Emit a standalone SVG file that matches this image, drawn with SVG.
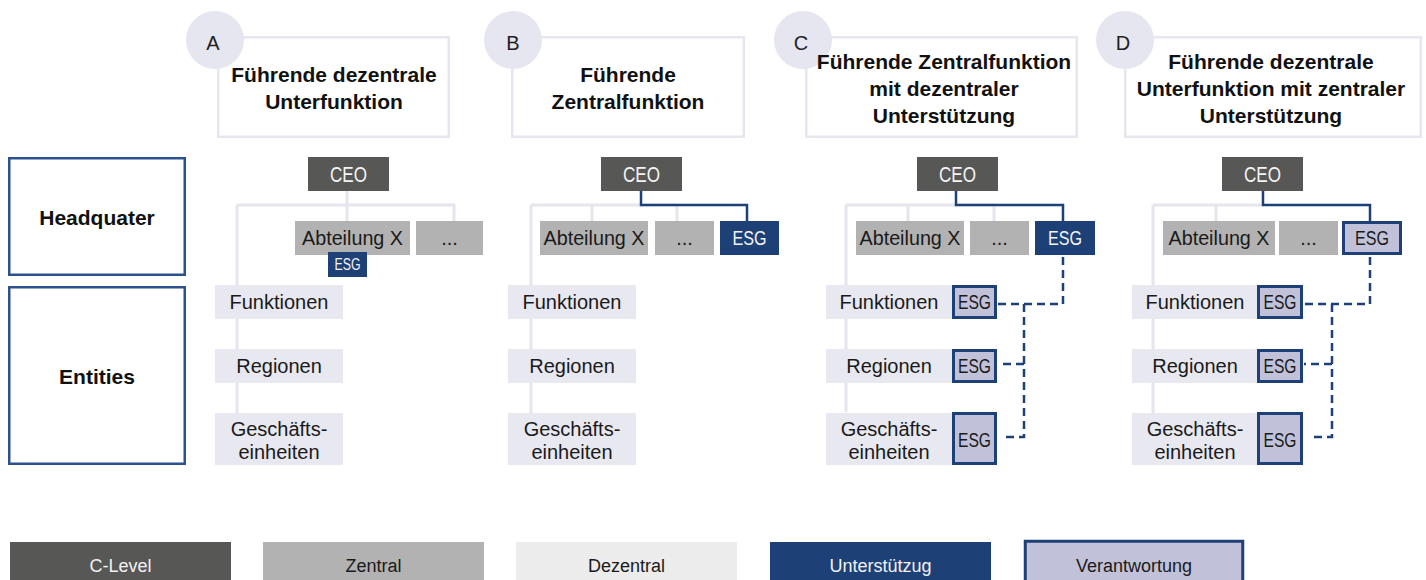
<svg xmlns="http://www.w3.org/2000/svg" width="1426" height="580" viewBox="0 0 1426 580">
<style>
  text { font-family: "Liberation Sans", Arial, sans-serif; text-anchor: middle; }
  .title { font-size: 21px; font-weight: bold; fill: #111; }
  .row { font-size: 21px; font-weight: bold; fill: #111; }
  .lbl { font-size: 20px; fill: #1a1a1a; }
  .wl { font-size: 20px; fill: #f4f4f4; }
  .ceo { font-size: 22px; fill: #f4f4f4; }
  .leg { font-size: 18px; }
  .hdr { fill: #fff; stroke: #e6e6f0; stroke-width: 2.5; }
  .circ { fill: #e6e6f0; }
  .letter { font-size: 20px; fill: #222; }
  .rowbox { fill: #fff; stroke: #2b5190; stroke-width: 2.5; }
  .clevel { fill: #575756; }
  .zentral { fill: #b2b2b2; }
  .dez { fill: #e8e8f0; }
  .blue { fill: #1d4077; }
  .resp { fill: #c1c2d9; stroke: #1d4077; stroke-width: 3; }
  .lline { fill: none; stroke: #e5e5ee; stroke-width: 3; }
  .bline { fill: none; stroke: #1d4077; stroke-width: 2.5; }
  .dline { fill: none; stroke: #1d4077; stroke-width: 2.5; stroke-dasharray: 8 5; }
</style>

<!-- Row labels -->
<g id="row-headquater">
  <rect class="rowbox" x="9.25" y="158.25" width="175.5" height="116.5"/>
  <text class="row" x="97" y="225">Headquater</text>
</g>
<g id="row-entities">
  <rect class="rowbox" x="9.25" y="287.25" width="175.5" height="176.5"/>
  <text class="row" x="97" y="384">Entities</text>
</g>

<!-- Headers -->
<g id="header-a">
  <rect class="hdr" x="218.25" y="37.25" width="230.5" height="99.5"/>
  <circle class="circ" cx="215" cy="40" r="29"/>
  <text class="letter" x="213" y="50">A</text>
  <text class="title" x="334" y="82">Führende dezentrale</text>
  <text class="title" x="334" y="109">Unterfunktion</text>
</g>
<g id="header-b">
  <rect class="hdr" x="512.25" y="37.25" width="231.5" height="99.5"/>
  <circle class="circ" cx="513" cy="40" r="29"/>
  <text class="letter" x="513" y="50">B</text>
  <text class="title" x="628" y="82">Führende</text>
  <text class="title" x="628" y="109">Zentralfunktion</text>
</g>
<g id="header-c">
  <rect class="hdr" x="806.25" y="37.25" width="270.5" height="99.5"/>
  <circle class="circ" cx="803" cy="40" r="29"/>
  <text class="letter" x="801" y="50">C</text>
  <text class="title" x="944" y="69">Führende Zentralfunktion</text>
  <text class="title" x="944" y="96">mit dezentraler</text>
  <text class="title" x="944" y="123">Unterstützung</text>
</g>
<g id="header-d">
  <rect class="hdr" x="1125.25" y="37.25" width="295.5" height="99.5"/>
  <circle class="circ" cx="1125" cy="40" r="29"/>
  <text class="letter" x="1123" y="50">D</text>
  <text class="title" x="1271" y="69">Führende dezentrale</text>
  <text class="title" x="1271" y="96">Unterfunktion mit zentraler</text>
  <text class="title" x="1271" y="123">Unterstützung</text>
</g>

<!-- Connectors -->
<g id="connectors">
  <!-- A -->
  <path class="lline" d="M347 191 V221 M237 205 H454 V221 M237 205 V413"/>
  <!-- B -->
  <path class="lline" d="M531 205 H677 V221 M592 205 V221 M531 205 V413"/>
  <path class="bline" d="M641 191 V205 H747 V221"/>
  <!-- C -->
  <path class="lline" d="M846 205 H994 V221 M908 205 V221 M846 205 V412"/>
  <path class="bline" d="M956 191 V205 H1063 V221"/>
  <path class="dline" d="M1063 257 V304 H998"/>
  <path class="dline" d="M1024 304 V437 H1003 M1024 364 H998"/>
  <!-- D -->
  <path class="lline" d="M1153 205 H1263 M1216 205 V221 M1153 205 V413"/>
  <path class="bline" d="M1263 191 V205 H1370 V221"/>
  <path class="dline" d="M1370 257 V304 H1304"/>
  <path class="dline" d="M1332 304 V437 H1310 M1332 364 H1304"/>
</g>

<!-- Section A nodes -->
<g id="a-ceo"><rect class="clevel" x="308" y="157" width="81" height="34"/><text class="ceo" x="348.5" y="182" textLength="37" lengthAdjust="spacingAndGlyphs">CEO</text></g>
<g id="a-abteilung"><rect class="zentral" x="295" y="221" width="115" height="34"/><text class="lbl" x="352.5" y="245" textLength="101" lengthAdjust="spacingAndGlyphs">Abteilung X</text></g>
<g id="a-more"><rect class="zentral" x="416" y="221" width="67" height="34"/><text class="lbl" x="449.5" y="245">...</text></g>
<g id="a-esg"><rect class="blue" x="328" y="252" width="39" height="25"/><text class="wl" x="347.5" y="270" style="font-size:16px" textLength="26" lengthAdjust="spacingAndGlyphs">ESG</text></g>
<g id="a-funktionen"><rect class="dez" x="215" y="285" width="128" height="34"/><text class="lbl" x="279" y="309">Funktionen</text></g>
<g id="a-regionen"><rect class="dez" x="215" y="349" width="128" height="34"/><text class="lbl" x="279" y="373">Regionen</text></g>
<g id="a-geschaeft"><rect class="dez" x="215" y="413" width="128" height="52"/><text class="lbl" x="279" y="436">Geschäfts-</text><text class="lbl" x="279" y="459">einheiten</text></g>

<!-- Section B nodes -->
<g id="b-ceo"><rect class="clevel" x="601" y="157" width="81" height="34"/><text class="ceo" x="641.5" y="182" textLength="37" lengthAdjust="spacingAndGlyphs">CEO</text></g>
<g id="b-abteilung"><rect class="zentral" x="540" y="221" width="108" height="34"/><text class="lbl" x="594" y="245" textLength="101" lengthAdjust="spacingAndGlyphs">Abteilung X</text></g>
<g id="b-more"><rect class="zentral" x="655" y="221" width="59" height="34"/><text class="lbl" x="684.5" y="245">...</text></g>
<g id="b-esg"><rect class="blue" x="720" y="221" width="59" height="34"/><text class="wl" x="749.5" y="245" textLength="34" lengthAdjust="spacingAndGlyphs">ESG</text></g>
<g id="b-funktionen"><rect class="dez" x="508" y="285" width="128" height="34"/><text class="lbl" x="572" y="309">Funktionen</text></g>
<g id="b-regionen"><rect class="dez" x="508" y="349" width="128" height="34"/><text class="lbl" x="572" y="373">Regionen</text></g>
<g id="b-geschaeft"><rect class="dez" x="508" y="413" width="128" height="52"/><text class="lbl" x="572" y="436">Geschäfts-</text><text class="lbl" x="572" y="459">einheiten</text></g>

<!-- Section C nodes -->
<g id="c-ceo"><rect class="clevel" x="917" y="157" width="81" height="34"/><text class="ceo" x="957.5" y="182" textLength="37" lengthAdjust="spacingAndGlyphs">CEO</text></g>
<g id="c-abteilung"><rect class="zentral" x="856" y="221" width="108" height="34"/><text class="lbl" x="910" y="245" textLength="101" lengthAdjust="spacingAndGlyphs">Abteilung X</text></g>
<g id="c-more"><rect class="zentral" x="970" y="221" width="59" height="34"/><text class="lbl" x="999.5" y="245">...</text></g>
<g id="c-esg"><rect class="blue" x="1035" y="221" width="60" height="34"/><text class="wl" x="1065" y="245" textLength="34" lengthAdjust="spacingAndGlyphs">ESG</text></g>
<g id="c-funktionen"><rect class="dez" x="826" y="285" width="128" height="34"/><text class="lbl" x="889" y="309">Funktionen</text></g>
<g id="c-regionen"><rect class="dez" x="826" y="349" width="128" height="34"/><text class="lbl" x="889" y="373">Regionen</text></g>
<g id="c-geschaeft"><rect class="dez" x="826" y="413" width="128" height="52"/><text class="lbl" x="889" y="436">Geschäfts-</text><text class="lbl" x="889" y="459">einheiten</text></g>
<g id="c-esg-f"><rect class="resp" x="953.5" y="286.5" width="42" height="31"/><text class="lbl" x="974.5" y="309" textLength="33" lengthAdjust="spacingAndGlyphs">ESG</text></g>
<g id="c-esg-r"><rect class="resp" x="953.5" y="350.5" width="42" height="31"/><text class="lbl" x="974.5" y="373" textLength="33" lengthAdjust="spacingAndGlyphs">ESG</text></g>
<g id="c-esg-g"><rect class="resp" x="953.5" y="413.5" width="42" height="50"/><text class="lbl" x="974.5" y="447" textLength="33" lengthAdjust="spacingAndGlyphs">ESG</text></g>

<!-- Section D nodes -->
<g id="d-ceo"><rect class="clevel" x="1222" y="157" width="81" height="34"/><text class="ceo" x="1262.5" y="182" textLength="37" lengthAdjust="spacingAndGlyphs">CEO</text></g>
<g id="d-abteilung"><rect class="zentral" x="1163" y="221" width="112" height="34"/><text class="lbl" x="1219" y="245" textLength="101" lengthAdjust="spacingAndGlyphs">Abteilung X</text></g>
<g id="d-more"><rect class="zentral" x="1279" y="221" width="59" height="34"/><text class="lbl" x="1308.5" y="245">...</text></g>
<g id="d-esg"><rect class="resp" x="1343.5" y="222.5" width="57" height="31"/><text class="lbl" x="1372" y="245" textLength="34" lengthAdjust="spacingAndGlyphs">ESG</text></g>
<g id="d-funktionen"><rect class="dez" x="1132" y="285" width="127" height="34"/><text class="lbl" x="1195" y="309">Funktionen</text></g>
<g id="d-regionen"><rect class="dez" x="1132" y="349" width="127" height="34"/><text class="lbl" x="1195" y="373">Regionen</text></g>
<g id="d-geschaeft"><rect class="dez" x="1132" y="413" width="127" height="52"/><text class="lbl" x="1195" y="436">Geschäfts-</text><text class="lbl" x="1195" y="459">einheiten</text></g>
<g id="d-esg-f"><rect class="resp" x="1258.5" y="286.5" width="43" height="31"/><text class="lbl" x="1280" y="309" textLength="33" lengthAdjust="spacingAndGlyphs">ESG</text></g>
<g id="d-esg-r"><rect class="resp" x="1258.5" y="350.5" width="43" height="31"/><text class="lbl" x="1280" y="373" textLength="33" lengthAdjust="spacingAndGlyphs">ESG</text></g>
<g id="d-esg-g"><rect class="resp" x="1258.5" y="413.5" width="43" height="50"/><text class="lbl" x="1280" y="447" textLength="33" lengthAdjust="spacingAndGlyphs">ESG</text></g>

<!-- Legend -->
<g id="legend-clevel"><rect class="clevel" x="10" y="542" width="221" height="38"/><text class="leg" x="120.5" y="572" fill="#f2f2f2">C-Level</text></g>
<g id="legend-zentral"><rect class="zentral" x="263" y="542" width="221" height="38"/><text class="leg" x="373.5" y="572" fill="#1a1a1a">Zentral</text></g>
<g id="legend-dezentral"><rect x="516" y="542" width="221" height="38" fill="#ececec"/><text class="leg" x="626.5" y="572" fill="#1a1a1a">Dezentral</text></g>
<g id="legend-unterstuetzung"><rect class="blue" x="770" y="542" width="221" height="38"/><text class="leg" x="880.5" y="572" fill="#f2f2f2">Unterstützug</text></g>
<g id="legend-verantwortung"><rect class="resp" x="1025.25" y="541.25" width="217.5" height="42" stroke-width="2.5"/><text class="leg" x="1134" y="572" fill="#1a1a1a">Verantwortung</text></g>
</svg>
